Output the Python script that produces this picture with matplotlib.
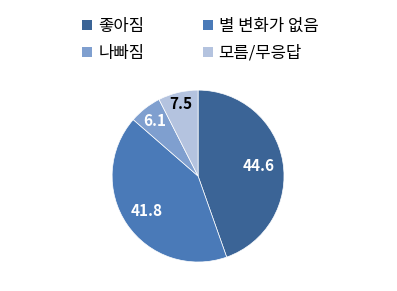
import numpy as np
import matplotlib
matplotlib.use("Agg")
from matplotlib import pyplot as plt
from matplotlib.patches import Patch

plt.rcParams['font.family'] = ['Noto Sans CJK KR', 'DejaVu Sans']

labels = ["좋아짐", "별 변화가 없음", "나빠짐", "모름/무응답"]
values = [44.6, 41.8, 6.1, 7.5]
colors = ["#3b6496", "#4a7ab8", "#7f9fcf", "#b4c3df"]
txt_colors = ["white", "white", "white", "black"]
dists = [0.72, 0.72, 0.82, 0.86]

fig = plt.figure(figsize=(3.97, 2.91), dpi=100)
ax = fig.add_axes([0.2824, 0.0995, 0.433, 0.591])

wedges, _ = ax.pie(values, colors=colors, startangle=90, counterclock=False,
                   wedgeprops=dict(edgecolor="white", linewidth=0.5))
ax.set_xlim(-1, 1)
ax.set_ylim(-1, 1)
ax.set_aspect("equal")

for w, v, c, d in zip(wedges, values, txt_colors, dists):
    ang = np.deg2rad((w.theta1 + w.theta2) / 2)
    ax.text(d * np.cos(ang), d * np.sin(ang), f"{v}", color=c,
            ha="center", va="center", fontsize=11, fontweight="bold")

# legend is filled row by row in the original
order = [0, 2, 1, 3]
handles = [Patch(facecolor=colors[i], edgecolor="none") for i in order]
fig.legend(handles, [labels[i] for i in order], ncol=2, loc="upper left",
           bbox_to_anchor=(0.17, 0.99), frameon=False, fontsize=12,
           handlelength=0.6, handleheight=0.6, handletextpad=0.35,
           columnspacing=3.5, labelspacing=0.6)

fig.savefig("out.png", dpi=100)
